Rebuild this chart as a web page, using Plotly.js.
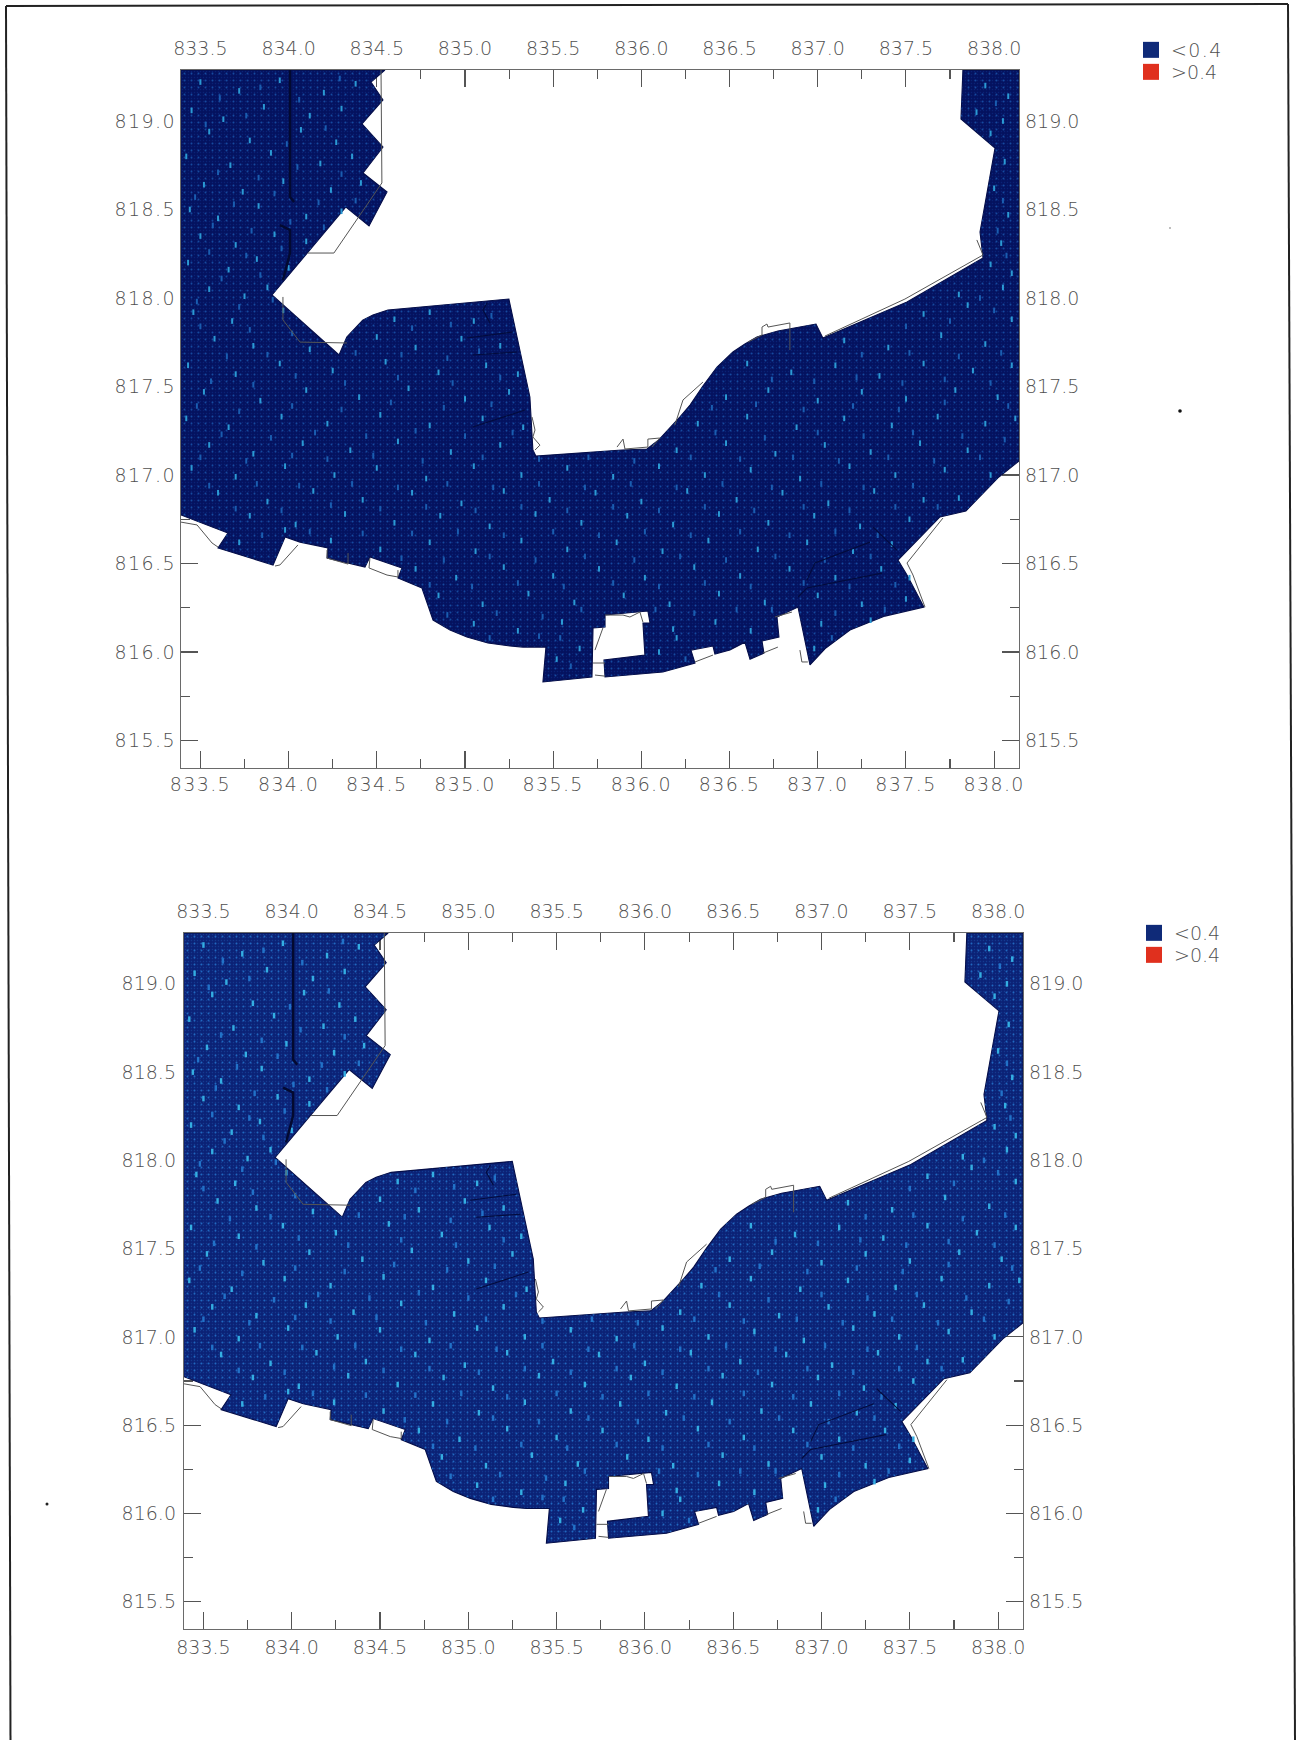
<!DOCTYPE html>
<html><head><meta charset="utf-8">
<script src="https://cdn.plot.ly/plotly-3.0.1.min.js"></script>
<style>
html,body{margin:0;padding:0;background:#fff}
.xtick text,.ytick text,.legendtext{letter-spacing:1.4px}
</style></head>
<body><div id="chart" style="width:1297px;height:1740px"></div>
<script>
const xTicks=[833.5,834.0,834.5,835.0,835.5,836.0,836.5,837.0,837.5,838.0];
const yTicks=[815.5,816.0,816.5,817.0,817.5,818.0,818.5,819.0];
const seriesNames=['<0.4','>0.4'];
const xRange=[833.39,838.141], yRange=[815.345,819.288];

// outline of the <0.4 region, [x, y] in axis units
const region=[[833.39,819.288],[834.546,819.288],[834.467,819.22],[834.535,819.119],[834.416,818.983],[834.535,818.853],[834.422,818.706],[834.558,818.599],[834.456,818.407],[834.325,818.514],[833.906,818.017],[834.286,817.678],[834.33,817.78],[834.376,817.831],[834.42,817.875],[834.478,817.904],[834.563,817.932],[835.249,817.994],[835.368,817.441],[835.385,817.141],[835.402,817.107],[835.89,817.141],[836.032,817.147],[836.1,817.2],[836.162,817.266],[836.219,817.328],[836.276,817.395],[836.349,817.503],[836.429,817.61],[836.474,817.655],[836.519,817.695],[836.587,817.74],[836.655,817.78],[836.774,817.814],[836.899,817.836],[836.99,817.853],[837.029,817.774],[837.506,817.977],[837.937,818.226],[837.92,818.373],[838.005,818.847],[837.812,819.011],[837.823,819.288],[838.141,819.288],[838.141,817.079],[838.027,816.989],[837.84,816.797],[837.693,816.763],[837.455,816.52],[837.506,816.435],[837.602,816.254],[837.381,816.203],[837.183,816.124],[837.046,816.023],[836.956,815.927],[836.888,816.254],[836.769,816.198],[836.78,816.085],[836.684,816.062],[836.695,815.994],[836.616,815.96],[836.587,816.056],[836.502,816.011],[836.417,815.989],[836.406,816.034],[836.281,816.011],[836.304,815.938],[836.122,815.887],[835.794,815.859],[835.788,815.955],[836.02,815.983],[836.009,816.164],[836.049,816.164],[836.037,816.232],[835.794,816.209],[835.794,816.141],[835.726,816.136],[835.72,815.859],[835.442,815.831],[835.459,816.028],[835.329,816.028],[835.255,816.034],[835.13,816.051],[835.011,816.085],[834.915,816.124],[834.819,816.181],[834.756,816.362],[834.62,816.418],[834.643,816.475],[834.461,816.537],[834.433,816.48],[834.218,816.531],[834.223,816.588],[834.065,816.621],[833.98,816.65],[833.912,816.492],[833.6,816.588],[833.656,816.672],[833.39,816.774]];

// thin coastline segments
const coast=[
[[834.524,819.288],[834.529,818.65],[834.393,818.452],[834.257,818.254],[834.11,818.254]],
[[833.968,818.006],[833.968,817.876],[834.065,817.751],[834.331,817.746]],
[[833.39,816.734],[833.481,816.718],[833.566,816.616],[833.6,816.593]],
[[833.923,816.486],[833.951,816.492],[834.053,816.605]],
[[834.218,816.576],[834.218,816.531],[834.337,816.497],[834.337,816.559]],
[[834.461,816.531],[834.456,816.475],[834.558,816.435],[834.62,816.424],[834.62,816.463]],
[[835.38,817.328],[835.397,817.254],[835.385,817.215],[835.425,817.169],[835.397,817.141]],
[[835.862,817.158],[835.896,817.203],[835.907,817.147],[836.037,817.158],[836.037,817.203],[836.105,817.209],[836.06,817.158]],
[[836.19,817.282],[836.236,817.424],[836.349,817.525]],
[[836.604,817.751],[836.684,817.791],[836.684,817.836],[836.712,817.853],[836.718,817.836],[836.842,817.859],[836.842,817.706]],
[[837.041,817.785],[837.494,817.994],[837.937,818.243],[837.902,818.328]],
[[837.71,816.757],[837.506,816.503],[837.54,816.435],[837.608,816.254]],
[[836.757,816.198],[836.854,816.226]],
[[836.899,816.011],[836.91,815.944],[836.944,815.944]],
[[836.774,816.028],[836.689,815.994]],
[[836.304,815.944],[836.406,815.983]],
[[835.726,815.938],[835.794,815.938]],
[[835.737,815.87],[835.794,815.864]],
[[835.737,816.011],[835.782,816.136]],
[[835.794,816.209],[835.896,816.209],[835.935,816.198],[835.992,816.226],[836.009,816.169]]
];

// heavy dark lines near the top-left of the region
const spine=[
[[834.008,819.288],[834.008,818.571],[834.031,818.542]],
[[833.951,818.412],[834.008,818.384],[834.008,818.254],[833.968,818.102]]
];
// faint dark lines running inside the region
const inner=[
[[836.888,816.311],[836.939,816.362],[837.364,816.446]],
[[836.939,816.407],[836.984,816.503],[837.296,816.621]],
[[837.313,816.706],[837.449,816.576]],
[[835.125,817.972],[835.102,817.932],[835.142,817.859]],
[[835.011,817.774],[835.272,817.808]],
[[835.045,817.678],[835.295,817.695]],
[[835.045,817.271],[835.34,817.367]]
];

// brighter speckles read across the water body
const specks=[[833.5,819.22],[833.72,819.17],[833.95,819.23],[834.2,819.16],[834.38,819.21],[837.95,819.2],[838.08,819.14],
[833.45,819.06],[833.63,819.01],[833.86,819.08],[834.12,819.03],[834.3,819.07],[837.9,819.05],[838.05,819.0],
[833.55,818.94],[833.78,818.89],[834.07,818.95],[834.27,818.88],[837.98,818.93],
[833.42,818.8],[833.67,818.75],[833.9,818.82],[834.18,818.76],[834.36,818.8],[838.06,818.77],
[833.52,818.64],[833.74,818.6],[833.97,818.66],[834.24,818.61],[834.41,818.65],[838.0,818.62],
[833.44,818.5],[833.6,818.45],[833.83,818.52],[834.1,818.46],[834.3,818.49],[838.08,818.47],
[833.5,818.35],[833.7,818.3],[833.92,818.36],[834.1,818.32],[838.04,818.31],
[833.43,818.2],[833.66,818.16],[833.82,818.22],[834.0,818.17],[837.98,818.19],[838.1,818.14],
[833.55,818.05],[833.75,818.01],[833.88,818.06],[837.8,818.02],[838.05,818.06],
[833.46,817.92],[833.68,817.87],[833.97,817.93],[834.6,817.88],[834.8,817.92],[835.05,817.87],[837.6,817.91],[837.85,817.96],[838.1,817.88],
[833.58,817.77],[833.8,817.73],[834.12,817.71],[834.5,817.78],[834.72,817.72],[834.98,817.77],[835.2,817.73],[837.15,817.76],[837.4,817.72],[837.7,817.79],[837.95,817.74],
[833.43,817.62],[833.7,817.57],[833.95,817.63],[834.25,817.59],[834.55,817.64],[834.85,817.58],[835.12,817.62],[835.3,817.57],[836.6,817.63],[836.85,817.58],[837.1,817.62],[837.35,817.56],[837.6,817.63],[837.88,817.59],[838.1,817.62],
[833.52,817.47],[833.84,817.42],[834.1,817.48],[834.4,817.44],[834.68,817.49],[835.0,817.43],[835.25,817.47],[836.48,817.44],[836.72,817.48],[837.0,817.42],[837.25,817.47],[837.5,817.43],[837.78,817.48],[838.02,817.44],
[833.42,817.32],[833.66,817.27],[833.96,817.33],[834.22,817.29],[834.52,817.34],[834.8,817.28],[835.1,817.32],[835.33,817.27],[836.32,817.29],[836.6,817.33],[836.88,817.27],[837.15,817.32],[837.42,817.28],[837.68,817.33],[837.95,817.29],[838.12,817.32],
[833.55,817.17],[833.8,817.12],[834.08,817.18],[834.35,817.14],[834.62,817.19],[834.92,817.13],[835.2,817.17],[836.2,817.14],[836.48,817.18],[836.76,817.12],[837.04,817.17],[837.3,817.13],[837.58,817.18],[837.85,817.14],
[833.45,817.04],[833.7,816.99],[833.98,817.05],[834.26,817.0],[834.5,817.04],[834.78,816.98],[835.05,817.05],[835.32,817.0],[835.58,817.04],[835.84,816.99],[836.1,817.05],[836.36,817.0],[836.62,817.03],[836.9,816.98],[837.18,817.05],[837.44,817.0],[837.72,817.03],[837.98,817.0],
[833.6,816.9],[833.88,816.85],[834.14,816.91],[834.42,816.86],[834.7,816.9],[834.98,816.84],[835.22,816.91],[835.48,816.86],[835.74,816.9],[836.0,816.85],[836.26,816.91],[836.54,816.86],[836.8,816.9],[837.06,816.84],[837.32,816.91],[837.6,816.86],[837.8,816.87],
[833.78,816.77],[834.04,816.72],[834.32,816.78],[834.6,816.73],[834.86,816.77],[835.14,816.71],[835.4,816.78],[835.66,816.73],[835.92,816.77],[836.18,816.72],[836.44,816.78],[836.72,816.73],[836.98,816.77],[837.24,816.71],[837.52,816.75],
[833.72,816.62],[833.98,816.69],[834.24,816.63],[834.52,816.58],[834.8,816.62],[835.06,816.57],[835.32,816.63],[835.58,816.58],[835.86,816.62],[836.12,816.57],[836.38,816.63],[836.66,816.58],[836.94,816.62],[837.2,816.57],[837.42,816.61],
[834.72,816.47],[834.95,816.42],[835.22,816.48],[835.5,816.43],[835.76,816.47],[836.02,816.42],[836.3,816.48],[836.56,816.43],[836.84,816.47],[837.1,816.42],[837.36,816.47],[837.52,816.42],
[834.85,816.32],[835.1,816.27],[835.36,816.33],[835.62,816.28],[835.9,816.32],[836.16,816.27],[836.44,816.33],[836.7,816.28],[837.0,816.32],[837.25,816.27],[837.5,816.3],
[835.05,816.16],[835.3,816.12],[835.55,816.17],[836.18,816.13],[836.42,816.17],[836.62,816.12],[837.02,816.16],[837.3,816.18],
[835.52,815.96],[835.65,816.02],[836.1,816.0],[836.2,816.08],[836.98,816.02]];
// further, dimmer speckles between the bright ones
const specksDim=[[833.61,819.13],[833.84,819.19],[834.06,819.12],[834.29,819.24],[833.53,818.98],[833.76,819.03],[833.99,818.87],[834.21,818.96],[838.01,819.1],
[833.6,818.71],[833.83,818.68],[834.05,818.74],[834.3,818.7],[833.47,818.57],[833.69,818.53],[833.92,818.59],[834.17,818.54],[834.38,818.55],[838.05,818.55],
[833.57,818.41],[833.79,818.38],[834.01,818.43],[834.2,818.4],[833.55,818.26],[833.76,818.24],[833.96,818.28],[838.02,818.38],[838.07,818.24],
[833.62,818.11],[833.84,818.13],[833.48,817.98],[833.72,817.95],[833.91,817.99],[837.92,818.0],[834.7,817.83],[834.92,817.85],[835.15,817.9],[837.5,817.84],[837.75,817.87],[838.0,817.93],
[833.5,817.84],[833.78,817.82],[834.02,817.8],[833.65,817.67],[833.88,817.68],[834.38,817.69],[834.64,817.68],[834.9,817.66],[835.08,817.7],[837.25,817.68],[837.52,817.69],[837.8,817.67],[838.04,817.69],
[833.56,817.53],[833.8,817.51],[834.04,817.56],[834.32,817.52],[834.62,817.55],[834.93,817.52],[835.2,817.55],[836.74,817.54],[836.98,817.53],[837.22,817.55],[837.48,817.52],[837.72,817.54],[837.98,817.52],
[833.48,817.39],[833.72,817.36],[834.02,817.39],[834.3,817.37],[834.58,817.41],[834.88,817.38],[835.15,817.4],[836.4,817.38],[836.65,817.4],[836.92,817.37],[837.2,817.39],[837.46,817.37],[837.72,817.41],[838.08,817.39],
[833.62,817.23],[833.9,817.21],[834.15,817.24],[834.44,817.22],[834.72,817.25],[835.0,817.22],[835.27,817.24],[836.42,817.24],[836.7,817.21],[837.0,817.24],[837.26,817.22],[837.54,817.24],[837.82,817.22],[838.06,817.2],
[833.5,817.1],[833.76,817.08],[834.02,817.11],[834.22,817.09],[834.48,817.11],[834.76,817.08],[835.1,817.1],[835.42,817.09],[835.7,817.1],[835.96,817.08],[836.28,817.1],[836.56,817.09],[836.86,817.1],[837.12,817.08],[837.4,817.1],[837.66,817.08],[837.92,817.1],
[833.55,816.94],[833.82,816.95],[834.06,816.94],[834.36,816.95],[834.62,816.93],[834.9,816.95],[835.16,816.93],[835.42,816.95],[835.68,816.93],[835.94,816.95],[836.2,816.93],[836.46,816.95],[836.74,816.93],[837.02,816.95],[837.26,816.93],[837.54,816.94],
[833.7,816.81],[833.96,816.8],[834.24,816.83],[834.52,816.81],[834.78,816.82],[835.06,816.8],[835.32,816.82],[835.58,816.8],[835.84,816.82],[836.1,816.8],[836.36,816.82],[836.64,816.8],[836.92,816.82],[837.18,816.8],[837.44,816.82],[837.68,816.82],
[833.85,816.66],[834.12,816.68],[834.42,816.67],[834.7,816.67],[834.96,816.68],[835.22,816.66],[835.5,816.68],[835.76,816.66],[836.02,816.68],[836.28,816.66],[836.56,816.68],[836.84,816.66],[837.1,816.68],[837.34,816.66],
[834.64,816.53],[834.88,816.52],[835.14,816.54],[835.4,816.52],[835.68,816.54],[835.96,816.52],[836.22,816.54],[836.48,816.52],[836.76,816.54],[837.04,816.52],[837.3,816.54],
[834.8,816.38],[835.04,816.37],[835.3,816.39],[835.56,816.37],[835.84,816.39],[836.1,816.37],[836.36,816.39],[836.62,816.37],[836.92,816.39],[837.18,816.37],[837.44,816.38],
[834.9,816.21],[835.18,816.22],[835.44,816.2],[835.66,816.24],[836.08,816.24],[836.3,816.22],[836.54,816.24],[836.74,816.24],[837.1,816.22],[837.38,816.24],
[835.14,816.08],[835.42,816.09],[835.6,815.92],[835.54,816.08],[836.25,815.96],[837.08,816.08]];

const W=1297,H=1740;
const panels=[
 {x:'x2',y:'y2',px:[181,1019],py:[70,768],base:'#04125f',dot1:'#0a2276',dot2:'#154a9e',speck:'#2b9ad4',dim:'#1a5db0',sw:2,lg:[1131,31],legends:['legend','legend2'],off:{b:-1,l:0,t:6,r:1}},
 {x:'x4',y:'y4',px:[184,1023],py:[933,1629],base:'#0b2276',dot1:'#143a90',dot2:'#2068c0',speck:'#34aee2',dim:'#2272c8',sw:2.4,lg:[1134,914],legends:['legend3','legend4'],off:{b:1,l:3,t:6,r:1}}
];
const traces=[];
const layout={width:W,height:H,margin:{l:0,r:0,t:0,b:0,pad:0},paper_bgcolor:'#fff',plot_bgcolor:'rgba(0,0,0,0)',showlegend:true,shapes:[],
 font:{family:'"DejaVu Sans"',size:19,color:'#505050',weight:200}};
function ax(extra,domain,range,ticks){
  return Object.assign({domain,range,fixedrange:true,showgrid:false,zeroline:false,showline:true,linecolor:'#6a6a6a',linewidth:1.2,
    tickmode:'array',tickvals:ticks,ticktext:ticks.map(v=>v.toFixed(1)),ticks:'inside',ticklen:17,tickwidth:1.1,tickcolor:'#555',
    tickfont:{family:'"DejaVu Sans"',size:19,color:'#505050',weight:200},layer:'below traces',automargin:false,
    minor:{tickmode:'array',tickvals:ticks.map(v=>v+0.25),ticks:'inside',ticklen:9,tickwidth:1.1,tickcolor:'#555',showgrid:false}},extra);
}
panels.forEach((p,pi)=>{
  const dx=[p.px[0]/W,p.px[1]/W], dy=[1-p.py[1]/H,1-p.py[0]/H];
  const n=pi*2; const s1=n===0?'':String(n+1);
  const xbId='x'+s1, ylId='y'+s1;
  layout['xaxis'+s1]=ax({anchor:ylId,side:'bottom',ticklabelstandoff:p.off.b},dx,xRange,xTicks);
  layout['yaxis'+s1]=ax({anchor:xbId,side:'left',ticklabelstandoff:p.off.l},dy,yRange,yTicks);
  layout['xaxis'+(n+2)]=ax({anchor:'y'+(n+2),side:'top',overlaying:xbId,ticklabelstandoff:p.off.t},dx,xRange,xTicks);
  layout['yaxis'+(n+2)]=ax({anchor:'x'+(n+2),side:'right',overlaying:ylId,ticklabelstandoff:p.off.r},dy,yRange,yTicks);
  // an empty trace so that the bottom and left axes are drawn
  traces.push({xaxis:xbId,yaxis:ylId,x:[xTicks[0]],y:[yTicks[0]],mode:'markers',marker:{size:1,opacity:0},showlegend:false,hoverinfo:'skip'});
  const on={xaxis:p.x,yaxis:p.y,showlegend:false,hoverinfo:'skip'};
  traces.push(Object.assign({},on,{x:region.map(d=>d[0]),y:region.map(d=>d[1]),mode:'lines',fill:'toself',fillcolor:p.base,
     line:{color:'#040d48',width:1.1},fillpattern:{shape:'.',size:3,solidity:0.18,fgcolor:p.dot1,bgcolor:p.base,fillmode:'replace'}}));
  traces.push(Object.assign({},on,{x:region.map(d=>d[0]),y:region.map(d=>d[1]),mode:'none',fill:'toself',fillcolor:'rgba(0,0,0,0)',
     fillpattern:{shape:'.',size:7,solidity:0.06,fgcolor:p.dot2,bgcolor:'rgba(0,0,0,0)',fillmode:'replace'}}));
  traces.push(Object.assign({},on,{x:specksDim.map(d=>d[0]),y:specksDim.map(d=>d[1]),mode:'markers',
     marker:{symbol:'line-ns-open',size:4,color:p.dim,line:{color:p.dim,width:p.sw}}}));
  traces.push(Object.assign({},on,{x:specks.map(d=>d[0]),y:specks.map(d=>d[1]),mode:'markers',
     marker:{symbol:'line-ns-open',size:4,color:p.speck,line:{color:p.speck,width:p.sw}}}));
  spine.forEach(s=>traces.push(Object.assign({},on,{x:s.map(d=>d[0]),y:s.map(d=>d[1]),mode:'lines',line:{color:'#030a30',width:2.4}})));
  inner.forEach(s=>traces.push(Object.assign({},on,{x:s.map(d=>d[0]),y:s.map(d=>d[1]),mode:'lines',line:{color:'#030b3c',width:1.1}})));
  coast.forEach(s=>traces.push(Object.assign({},on,{x:s.map(d=>d[0]),y:s.map(d=>d[1]),mode:'lines',line:{color:'#555',width:1}})));
  seriesNames.forEach((nm,i)=>{
    traces.push({xaxis:p.x,yaxis:p.y,x:[null],y:[null],mode:'markers',name:nm,legend:p.legends[i],showlegend:true,
      marker:{symbol:'square',size:16,color:i===0?'#0f2a78':'#e0301e'}});
    layout[p.legends[i]]={x:p.lg[0]/W,xanchor:'left',y:1-(p.lg[1]+i*22)/H,yanchor:'top',bgcolor:'rgba(0,0,0,0)',borderwidth:0,
      font:{family:'"DejaVu Sans"',size:19,color:'#505050',weight:200},itemclick:false,itemdoubleclick:false};
  });
});
// scanned page frame and stray dots
const paperLine=(x0,y0,x1,y1)=>({type:'line',xref:'paper',yref:'paper',x0:x0/W,x1:x1/W,y0:1-y0/H,y1:1-y1/H,line:{color:'#222',width:2}});
layout.shapes.push(paperLine(6,6,10.5,1740),paperLine(6,6,1288,4),paperLine(1288,4,1295,1740));
[[1180,411,1.8,'#111'],[47,1504,1.5,'#222'],[1170,228,1,'#aaa']].forEach(d=>layout.shapes.push({type:'circle',xref:'paper',yref:'paper',x0:(d[0]-d[2])/W,x1:(d[0]+d[2])/W,y0:1-(d[1]+d[2])/H,y1:1-(d[1]-d[2])/H,fillcolor:d[3],line:{width:0}}));
Plotly.newPlot('chart',traces,layout,{displayModeBar:false,staticPlot:true});
</script></body></html>
